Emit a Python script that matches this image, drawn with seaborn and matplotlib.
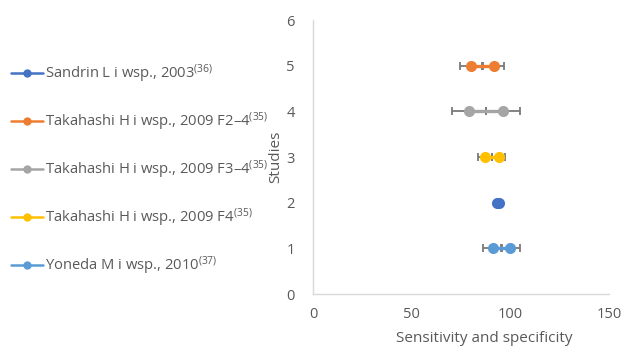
import matplotlib
matplotlib.use("Agg")
import matplotlib.pyplot as plt
import seaborn as sns
import pandas as pd
from matplotlib.lines import Line2D

# ---- data ----
studies = [
    "Sandrin L i wsp., 2003$^{(36)}$",
    "Takahashi H i wsp., 2009 F2–4$^{(35)}$",
    "Takahashi H i wsp., 2009 F3–4$^{(35)}$",
    "Takahashi H i wsp., 2009 F4$^{(35)}$",
    "Yoneda M i wsp., 2010$^{(37)}$",
]
study_pos = [2, 5, 4, 3, 1]
sensitivity = [93, 80, 79, 87, 91]
specificity = [94, 91.5, 96.3, 94, 100]
errors = [0, 5.5, 8.6, 3.5, 4.7]
colors = ["#4472C4", "#ED7D31", "#A5A5A5", "#FFC000", "#5B9BD5"]
x_ticks = [0, 50, 100, 150]
y_ticks = [0, 1, 2, 3, 4, 5, 6]

rows = []
for s, p, a, b, e in zip(studies, study_pos, sensitivity, specificity, errors):
    rows.append(dict(study=s, pos=p, value=a, err=e))
    rows.append(dict(study=s, pos=p, value=b, err=e))
df = pd.DataFrame(rows)

sns.set_theme(style="white")
plt.rcParams["font.family"] = ["Open Sans", "DejaVu Sans"]
plt.rcParams["mathtext.fontset"] = "custom"
plt.rcParams["mathtext.rm"] = "Open Sans"
plt.rcParams["mathtext.it"] = "Open Sans"
plt.rcParams["mathtext.bf"] = "Open Sans"

text_color = "#595959"
fig = plt.figure(figsize=(6.24, 3.48), dpi=100)
ax = fig.add_axes([0.5016, 0.155, 0.4744, 0.7875])

palette = dict(zip(studies, colors))
for s, c in zip(studies, colors):
    sub = df[df.study == s]
    if sub.err.max() > 0:
        ax.errorbar(sub.value, sub.pos, xerr=sub.err, fmt="none",
                    ecolor="#7a7a7a", elinewidth=1.3, capsize=3.2, capthick=1.3, zorder=1)
sns.lineplot(data=df, x="value", y="pos", hue="study", palette=palette,
             hue_order=studies, estimator=None, sort=False, units="study",
             marker="o", markersize=8, markeredgewidth=0, linewidth=2.4,
             ax=ax, legend=False, zorder=3)

ax.set_xlim(0, 150)
ax.set_ylim(0, 6)
ax.set_xticks(x_ticks)
ax.set_yticks(y_ticks)
ax.tick_params(axis="x", length=0, labelsize=10.5, colors=text_color, pad=9)
ax.tick_params(axis="y", length=0, labelsize=10.5, colors=text_color, pad=13)
ax.set_xlabel("Sensitivity and specificity", fontsize=11, color=text_color)
ax.xaxis.set_label_coords(0.578, -0.135)
ax.set_ylabel("Studies", fontsize=11, color=text_color, labelpad=2)
for sp in ["top", "right"]:
    ax.spines[sp].set_visible(False)
for sp in ["left", "bottom"]:
    ax.spines[sp].set_color("#d9d9d9")
    ax.spines[sp].set_linewidth(1)

handles = [Line2D([], [], color=c, lw=1.8, marker="o", markersize=6,
                  markeredgewidth=0) for c in colors]
leg = fig.legend(handles, studies, loc="center left", bbox_to_anchor=(0.01, 0.512),
                 frameon=False, fontsize=10.6, labelspacing=1.72, handlelength=2.2,
                 handletextpad=0.15, borderaxespad=0.0, borderpad=0.3)
for t in leg.get_texts():
    t.set_color(text_color)

fig.savefig("out.png", dpi=100)
